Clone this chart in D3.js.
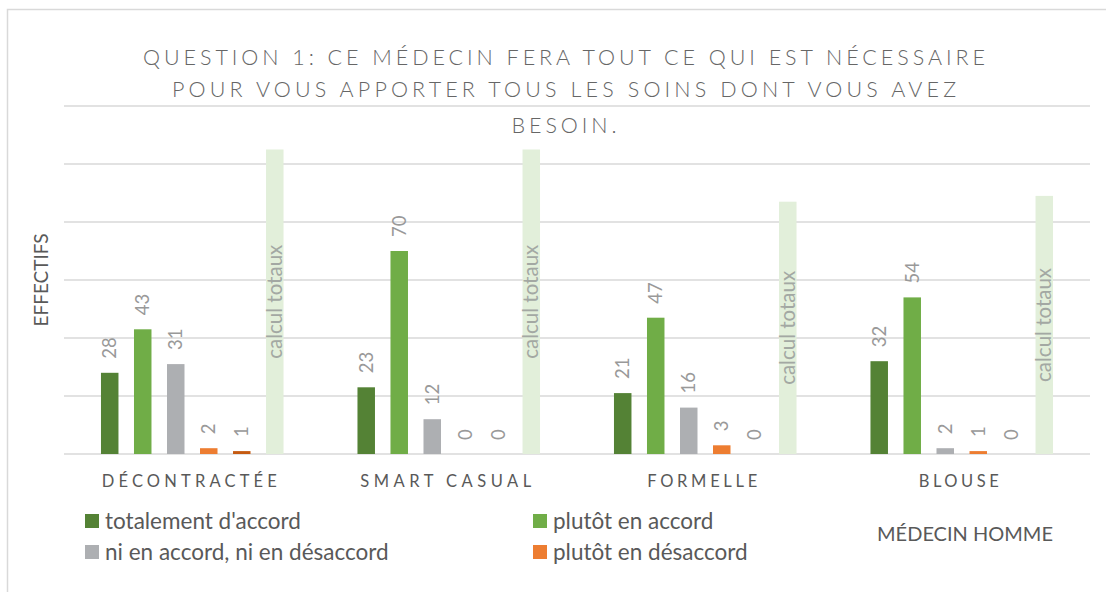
<!DOCTYPE html>
<html>
<head>
<meta charset="utf-8">
<script src="https://cdn.jsdelivr.net/npm/d3@7/dist/d3.min.js"></script>
<style>
  body { margin: 0; background: #fff; }
  text { font-family: Lato, "Open Sans", sans-serif; }
</style>
</head>
<body>
<div id="chart"></div>
<script>
// data
var categories = ["DÉCONTRACTÉE", "SMART CASUAL", "FORMELLE", "BLOUSE"];
var seriesNames = ["totalement d'accord", "plutôt en accord", "ni en accord, ni en désaccord",
                   "plutôt en désaccord", "totalement en désaccord", "calcul totaux"];
var totalementAccord = [28, 23, 21, 32];
var plutotAccord = [43, 70, 47, 54];
var niAccord = [31, 12, 16, 2];
var plutotDesaccord = [2, 0, 3, 1];
var totalementDesaccord = [1, 0, 0, 0];
var calculTotaux = [105, 105, 87, 89];
var yTicks = [0, 20, 40, 60, 80, 100, 120];
var titleLines = ["QUESTION 1: CE MÉDECIN FERA TOUT CE QUI EST NÉCESSAIRE",
                  "POUR VOUS APPORTER TOUS LES SOINS DONT VOUS AVEZ",
                  "BESOIN."];
var legendNames = ["totalement d'accord", "plutôt en accord",
                   "ni en accord, ni en désaccord", "plutôt en désaccord"];
var yLabel = "EFFECTIFS";
var subLabel = "MÉDECIN HOMME";

var seriesValues = [totalementAccord, plutotAccord, niAccord, plutotDesaccord, totalementDesaccord, calculTotaux];
var colors = ["#548235", "#70ad47", "#adafb2", "#ed7d31", "#c55a11", "#e2efda"];

var width = 1106, height = 592;
var margin = { left: 64, right: 16, top: 106, bottom: 138 };
var plotW = width - margin.left - margin.right;
var plotH = height - margin.top - margin.bottom;

var svg = d3.select("#chart").append("svg")
    .attr("width", width)
    .attr("height", height);

// chart frame (clipped by window on right/bottom)
svg.append("rect")
    .attr("x", 7.5).attr("y", 9.5)
    .attr("width", width + 20).attr("height", height + 20)
    .attr("fill", "none")
    .attr("stroke", "#d9d9d9")
    .attr("stroke-width", 1.5);

var g = svg.append("g")
    .attr("transform", "translate(" + margin.left + "," + margin.top + ")");

var x0 = d3.scaleBand().domain(categories).range([0, plotW]).padding(0);
var x1 = d3.scaleBand().domain(d3.range(seriesNames.length))
    .range([0, x0.bandwidth()])
    .paddingInner(0.47).paddingOuter(1.12);
var y = d3.scaleLinear().domain([0, 120]).range([plotH, 0]);

// gridlines
g.append("g").attr("class", "grid")
  .selectAll("line").data(yTicks).enter().append("line")
    .attr("x1", 0).attr("x2", plotW)
    .attr("y1", function (d) { return y(d); })
    .attr("y2", function (d) { return y(d); })
    .attr("stroke", "#d9d9d9")
    .attr("stroke-width", 1.5);

// bars
var groups = g.selectAll(".cat").data(categories).enter().append("g")
    .attr("class", "cat")
    .attr("transform", function (d) { return "translate(" + x0(d) + ",0)"; });

groups.each(function (cat, ci) {
    var grp = d3.select(this);
    seriesValues.forEach(function (vals, si) {
        var v = vals[ci];
        var bx = x1(si), bw = x1.bandwidth();
        grp.append("rect")
            .attr("x", bx).attr("width", bw)
            .attr("y", y(v)).attr("height", plotH - y(v))
            .attr("fill", colors[si]);
        var cx = bx + bw / 2;
        if (si === 5) {
            var cy = (y(v) + plotH) / 2;
            grp.append("text")
                .attr("transform", "translate(" + cx + "," + cy + ") rotate(-90)")
                .attr("text-anchor", "middle")
                .attr("dy", "0.35em")
                .attr("fill", "#a3a8a3")
                .attr("font-size", 20.5)
                .text(seriesNames[si]);
        } else {
            var ty = y(v) - 14;
            grp.append("text")
                .attr("transform", "translate(" + cx + "," + ty + ") rotate(-90)")
                .attr("text-anchor", "start")
                .attr("dy", "0.35em")
                .attr("fill", "#999999")
                .attr("font-size", 18.5)
                .text(v);
        }
    });
});

// category labels
var catWidths = [175, 171, 110, 80];
g.append("g").selectAll("text").data(categories).enter().append("text")
    .attr("x", function (d) { return x0(d) + x0.bandwidth() / 2 - 3; })
    .attr("y", plotH + 33)
    .attr("text-anchor", "middle")
    .attr("fill", "#595959")
    .attr("font-size", 16.5)
    .attr("textLength", function (d, i) { return catWidths[i]; })
    .attr("lengthAdjust", "spacing")
    .text(function (d) { return d; });

// title
var titleWidths = [842, 784, 105];
var titleY = [65, 97, 133];
svg.append("g").selectAll("text").data(titleLines).enter().append("text")
    .attr("x", 564)
    .attr("y", function (d, i) { return titleY[i]; })
    .attr("text-anchor", "middle")
    .attr("fill", "#666666")
    .attr("font-size", 21.5)
    .attr("font-weight", 300)
    .attr("textLength", function (d, i) { return titleWidths[i]; })
    .attr("lengthAdjust", "spacing")
    .text(function (d) { return d; });

// y axis title
svg.append("text")
    .attr("transform", "translate(48,280) rotate(-90)")
    .attr("text-anchor", "middle")
    .attr("fill", "#595959")
    .attr("font-size", 19)
    .text(yLabel);

// legend
var legendPos = [[85, 521], [533, 521], [85, 552], [533, 552]];
var lg = svg.append("g").selectAll("g").data(legendNames).enter().append("g")
    .attr("transform", function (d, i) { return "translate(" + legendPos[i][0] + "," + legendPos[i][1] + ")"; });
lg.append("rect")
    .attr("x", 0).attr("y", -7).attr("width", 14).attr("height", 14)
    .attr("fill", function (d, i) { return colors[i]; });
lg.append("text")
    .attr("x", 20).attr("y", 0).attr("dy", "0.35em")
    .attr("fill", "#595959")
    .attr("font-size", 22.5)
    .text(function (d) { return d; });

svg.append("text")
    .attr("x", 965).attr("y", 534).attr("dy", "0.35em")
    .attr("text-anchor", "middle")
    .attr("fill", "#595959")
    .attr("font-size", 20)
    .text(subLabel);
</script>
</body>
</html>
